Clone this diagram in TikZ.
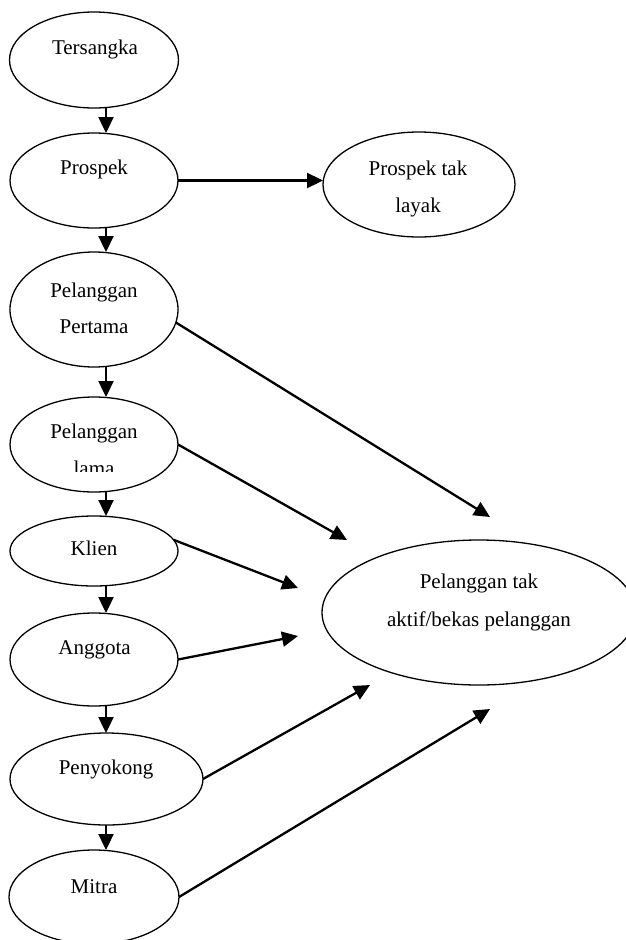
\documentclass[tikz,border=0pt]{standalone}
\usepackage{fontspec}
\setmainfont{Liberation Serif}
\usetikzlibrary{shapes.geometric,arrows.meta}
\begin{document}
\begin{tikzpicture}[x=1pt,y=-1pt,
  oval/.style={ellipse,draw,line width=1.3pt,inner sep=0pt,outer sep=0pt},
  lbl/.style={anchor=base,inner sep=0pt,font=\fontsize{21}{25}\selectfont},
  arr/.style={line width=2.3pt,-{Triangle[length=16pt,width=15pt]}}]
\useasboundingbox (0,0) rectangle (626,940);
\begin{scope}
\clip (0,0) rectangle (626,940);
% ellipses
\node[oval,minimum width=169pt,minimum height=96pt] (ters) at (94,60) {};
\node[oval,minimum width=168pt,minimum height=95pt] (pros) at (94,180.5) {};
\node[oval,minimum width=168pt,minimum height=115pt] (pp) at (94,309.5) {};
\node[oval,minimum width=168pt,minimum height=95pt] (pl) at (94,444.5) {};
\node[oval,minimum width=168pt,minimum height=70pt] (klien) at (94,551) {};
\node[oval,minimum width=168pt,minimum height=93pt] (angg) at (94,659.5) {};
\node[oval,minimum width=193pt,minimum height=92pt] (peny) at (106.5,779) {};
\node[oval,minimum width=170pt,minimum height=94pt] (mitra) at (94,897) {};
\node[oval,minimum width=192pt,minimum height=105pt] (ptl) at (419,184.5) {};
\node[oval,minimum width=314pt,minimum height=145pt] (big) at (479,612.5) {};
% labels
\node[lbl] (tTers) at (95,54) {Tersangka};
\node[lbl] (tPros) at (94,174) {Prospek};
\node[lbl] (tPP1) at (94,297) {Pelanggan};
\node[lbl] (tPP2) at (94,333) {Pertama};
\node[lbl] (tPL1) at (94,438) {Pelanggan};
\begin{scope}
\clip (40,420) rectangle (150,471);
\node[lbl] (tPL2) at (94,475) {lama};
\end{scope}
\node[lbl] (tKlien) at (94,555) {Klien};
\node[lbl] (tAngg) at (94.5,654) {Anggota};
\node[lbl] (tPeny) at (106,774) {Penyokong};
\node[lbl] (tMitra) at (94,893) {Mitra};
\node[lbl] (tPtl1) at (418,175) {Prospek tak};
\node[lbl] (tPtl2) at (418,212) {layak};
\node[lbl] (tBig1) at (479,588) {Pelanggan tak};
\node[lbl] (tBig2) at (479,626) {aktif/bekas pelanggan};
% vertical arrows
\coordinate (vx) at (106,0);
\draw[arr] (ters.south -| vx) -- (pros.north -| vx);
\draw[arr] (pros.south -| vx) -- (pp.north -| vx);
\draw[arr] (pp.south -| vx) -- (pl.north -| vx);
\draw[arr] (pl.south -| vx) -- (klien.north -| vx);
\draw[arr] (klien.south -| vx) -- (angg.north -| vx);
\draw[arr] (angg.south -| vx) -- (peny.north -| vx);
\draw[arr] (peny.south -| vx) -- (mitra.north -| vx);
% horizontal arrow
\draw[arr] (pros.east) -- (ptl.west |- pros.east);
% diagonal arrows
\coordinate (tipPP) at (490,517);
\coordinate (tipPL) at (347,540);
\coordinate (tipK) at (298,588);
\coordinate (tipA) at (298,636);
\coordinate (tipPe) at (370,685);
\coordinate (tipM) at (490,709);
\draw[arr] (pp.-9.4) -- (tipPP);
\draw[arr] (pl.east) -- (tipPL);
\draw[arr] (klien.8) -- (tipK);
\draw[arr] (angg.east) -- (tipA);
\draw[arr] (peny.east) -- (tipPe);
\draw[arr] (mitra.east) -- (tipM);
\end{scope}
\end{tikzpicture}
\end{document}
